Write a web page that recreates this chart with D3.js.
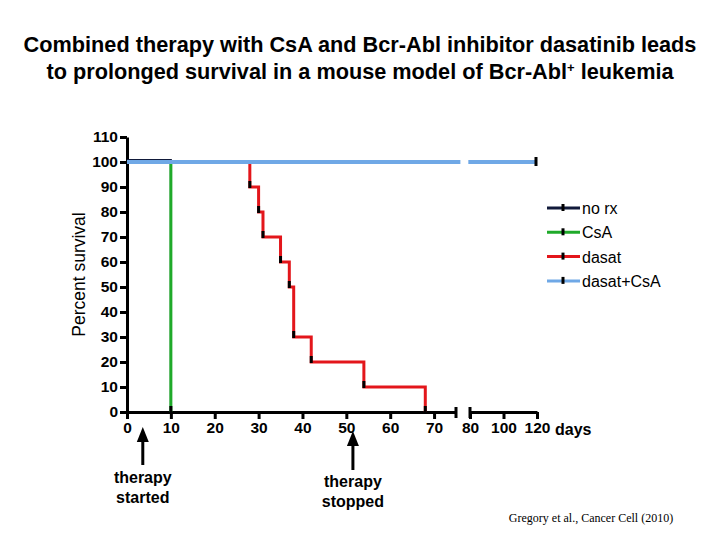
<!DOCTYPE html>
<html lang="en">
<head>
<meta charset="UTF-8">
<title>Survival</title>
<script src="https://d3js.org/d3.v7.min.js"></script>
<style>
  body { margin: 0; background: #fff; }
  text { font-family: "Liberation Sans", Arial, sans-serif; }
</style>
</head>
<body>
<svg width="720" height="540"></svg>
<script>
// data
var seriesNames = ['no rx', 'CsA', 'dasat', 'dasat+CsA'];
var seriesColors = ['#111a3a', '#1faa2a', '#e3161b', '#6fa8e6'];
var noRxDays = [0, 10, 10];
var noRxSurv = [100, 100, 0];
var csaDays = [0, 10, 10];
var csaSurv = [100, 100, 0];
var dasatDays = [0, 28, 30, 31, 35, 37, 38, 42, 54, 68];
var dasatSurv = [100, 90, 80, 70, 60, 50, 30, 20, 10, 0];
var comboDays = [0, 76, 79, 120];
var comboSurv = [100, 100, 100, 100];
var xTicks1 = [0, 10, 20, 30, 40, 50, 60, 70];
var xTicks2 = [80, 100, 120];
var yTicks = [0, 10, 20, 30, 40, 50, 60, 70, 80, 90, 100, 110];

var svg = d3.select('svg');
var padL = 127, padT = 137, h = 275;

// title
var title = svg.append('text').attr('text-anchor', 'middle')
    .style('font-weight', 'bold').style('font-size', '21.7px');
title.append('tspan').attr('x', 360).attr('y', 52)
    .text('Combined therapy with CsA and Bcr-Abl inhibitor dasatinib leads');
var t2 = title.append('tspan').attr('x', 360).attr('y', 79)
    .text('to prolonged survival in a mouse model of Bcr-Abl');
t2.append('tspan').attr('dy', -7).style('font-size', '13px').text('+');
t2.append('tspan').attr('dy', 7).text(' leukemia');

var g = svg.append('g').attr('transform', 'translate(' + padL + ',' + padT + ')');

// scales (broken x axis)
var x1 = d3.scaleLinear().domain([0, 75]).range([0, 329]);
var x2 = d3.scaleLinear().domain([80, 120]).range([343, 410]);
var y = d3.scaleLinear().domain([0, 110]).range([h, 0]);
function xs(d) { return d <= 77 ? x1(d) : x2(d); }

// y axis
g.append('g').call(d3.axisLeft(y).tickValues(yTicks).tickSize(7).tickSizeOuter(0).tickPadding(2));
// x axes
g.append('g').attr('transform', 'translate(0,' + h + ')')
    .call(d3.axisBottom(x1).tickValues(xTicks1).tickSize(7).tickSizeOuter(0).tickPadding(3));
g.append('g').attr('transform', 'translate(0,' + h + ')')
    .call(d3.axisBottom(x2).tickValues(xTicks2).tickSize(7).tickSizeOuter(0).tickPadding(3));
g.selectAll('.domain').attr('stroke', '#000').attr('stroke-width', 3);
g.selectAll('.tick line').attr('stroke', '#000').attr('stroke-width', 3);
g.selectAll('.tick text').attr('fill', '#000')
    .style('font-size', '15.5px').style('font-weight', 'bold')
    .style('font-family', '"Liberation Sans", Arial, sans-serif');
// break end caps
[x1(75), x2(80)].forEach(function (cx) {
  g.append('line').attr('x1', cx).attr('x2', cx).attr('y1', h - 5).attr('y2', h + 6)
      .attr('stroke', '#000').attr('stroke-width', 3);
});

svg.append('text').attr('x', padL + x2(120) + 18).attr('y', padT + h + 23)
    .style('font-size', '16px').style('font-weight', 'bold').text('days');

svg.append('text').attr('transform', 'translate(85,' + (padT + h / 2) + ') rotate(-90)')
    .attr('text-anchor', 'middle').style('font-size', '17.5px').text('Percent survival');

// step lines
var line = d3.line().curve(d3.curveStepAfter)
    .x(function (d) { return xs(d[0]); }).y(function (d) { return y(d[1]); });
function pairs(a, b) { return a.map(function (d, i) { return [d, b[i]]; }); }

var dasat = pairs(dasatDays, dasatSurv);
g.append('path').datum(dasat).attr('d', line)
    .attr('fill', 'none').attr('stroke', seriesColors[2]).attr('stroke-width', 3);
g.selectAll('.ev').data(dasat.slice(1)).enter().append('line')
    .attr('x1', function (d) { return xs(d[0]); }).attr('x2', function (d) { return xs(d[0]); })
    .attr('y1', function (d) { return y(d[1]) - 6; }).attr('y2', function (d) { return y(d[1]) + 1; })
    .attr('stroke', '#000').attr('stroke-width', 3);

g.append('path').datum(pairs(noRxDays, noRxSurv)).attr('d', line)
    .attr('fill', 'none').attr('stroke', seriesColors[0]).attr('stroke-width', 2)
    .attr('transform', 'translate(0,-2)');
g.append('path').datum(pairs(csaDays, csaSurv)).attr('d', line)
    .attr('fill', 'none').attr('stroke', seriesColors[1]).attr('stroke-width', 3);
g.append('line').attr('x1', xs(10)).attr('x2', xs(10)).attr('y1', y(0) - 6).attr('y2', y(0))
    .attr('stroke', '#000').attr('stroke-width', 3);

// combo line, broken at the axis gap
[comboDays.slice(0, 2), comboDays.slice(2)].forEach(function (seg, k) {
  var s = comboSurv.slice(k * 2, k * 2 + 2);
  g.append('path').datum(pairs(seg, s)).attr('d', line)
      .attr('fill', 'none').attr('stroke', seriesColors[3]).attr('stroke-width', 4);
});
g.append('line').attr('x1', xs(120) - 1).attr('x2', xs(120) - 1)
    .attr('y1', y(100) - 5).attr('y2', y(100) + 4)
    .attr('stroke', '#000').attr('stroke-width', 3);

// legend
var leg = svg.append('g').attr('transform', 'translate(547,208)');
var items = leg.selectAll('g').data(seriesNames).enter().append('g')
    .attr('transform', function (d, i) { return 'translate(0,' + i * 24.3 + ')'; });
items.append('line').attr('x1', 0).attr('x2', 33).attr('y1', 0).attr('y2', 0)
    .attr('stroke', function (d, i) { return seriesColors[i]; }).attr('stroke-width', 3);
items.append('line').attr('x1', 16).attr('x2', 16).attr('y1', -4).attr('y2', 3)
    .attr('stroke', '#000').attr('stroke-width', 3);
items.append('text').attr('x', 35).attr('y', 6).style('font-size', '16px').text(function (d) { return d; });

// annotations
function arrow(day, tipY, botY, lines, y0) {
  var ax = padL + x1(day);
  svg.append('line').attr('x1', ax).attr('x2', ax).attr('y1', tipY + 10).attr('y2', botY)
      .attr('stroke', '#000').attr('stroke-width', 3);
  svg.append('path').attr('d', 'M' + (ax - 6) + ',' + (tipY + 15) + 'L' + ax + ',' + tipY + 'L' + (ax + 6) + ',' + (tipY + 15) + 'Z')
      .attr('fill', '#000');
  lines.forEach(function (t, i) {
    svg.append('text').attr('x', ax).attr('y', y0 + i * 20).attr('text-anchor', 'middle')
        .style('font-size', '16px').style('font-weight', 'bold').text(t);
  });
}
arrow(3.6, 427, 465, ['therapy', 'started'], 483);
arrow(51.5, 431, 470, ['therapy', 'stopped'], 487);

svg.append('text').attr('x', 591).attr('y', 522).attr('text-anchor', 'middle')
    .style('font-family', '"Liberation Serif", "Times New Roman", serif').style('font-size', '12px')
    .text('Gregory et al., Cancer Cell  (2010)');
</script>
</body>
</html>
